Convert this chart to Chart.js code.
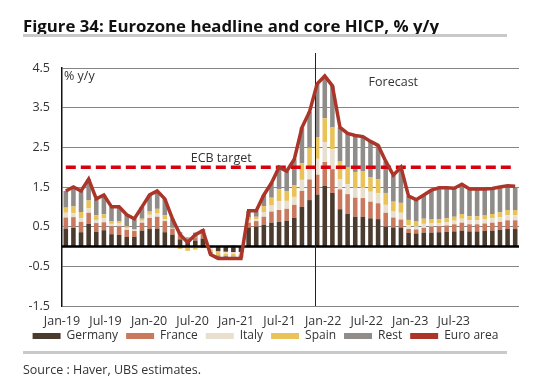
<!DOCTYPE html>
<html>
<head>
<meta charset="utf-8">
<script src="https://cdn.jsdelivr.net/npm/chart.js@4.4.0/dist/chart.umd.min.js"></script>
<style>
  body { margin: 0; background: #fff; font-family: "Open Sans", sans-serif; }
  #wrap { position: relative; width: 551px; height: 385px; overflow: hidden; }
  #title { position: absolute; left: 23px; top: 14px; font-size: 16.8px; font-weight: bold; color: #111; white-space: nowrap; }
  .rule { position: absolute; left: 23px; width: 484px; height: 3px; background: #c9c9c9; }
  #source { position: absolute; left: 23px; top: 361px; font-size: 12.5px; color: #333; white-space: nowrap; }
  canvas { position: absolute; left: 0; top: 0; }
</style>
</head>
<body>
<div id="wrap">
  <canvas id="chart" width="551" height="385"></canvas>
  <div id="title">Figure 34: Eurozone headline and core HICP, % y/y</div>
  <div class="rule" style="top:34px"></div>
  <div class="rule" style="top:351px"></div>
  <div id="source">Source : Haver, UBS estimates.</div>
</div>
<script>
// ===== data =====
const months = [
  "Jan-19","Feb-19","Mar-19","Apr-19","May-19","Jun-19","Jul-19","Aug-19","Sep-19","Oct-19","Nov-19","Dec-19",
  "Jan-20","Feb-20","Mar-20","Apr-20","May-20","Jun-20","Jul-20","Aug-20","Sep-20","Oct-20","Nov-20","Dec-20",
  "Jan-21","Feb-21","Mar-21","Apr-21","May-21","Jun-21","Jul-21","Aug-21","Sep-21","Oct-21","Nov-21","Dec-21",
  "Jan-22","Feb-22","Mar-22","Apr-22","May-22","Jun-22","Jul-22","Aug-22","Sep-22","Oct-22","Nov-22","Dec-22",
  "Jan-23","Feb-23","Mar-23","Apr-23","May-23","Jun-23","Jul-23","Aug-23","Sep-23","Oct-23","Nov-23","Dec-23"
];

const tickLabels = ["Jan-19","Jul-19","Jan-20","Jul-20","Jan-21","Jul-21","Jan-22","Jul-22","Jan-23","Jul-23"];
const yTicks = [-1.5, -0.5, 0.5, 1.5, 2.5, 3.5, 4.5];

const germany = [
  0.45,0.47,0.36,0.57,0.37,0.41,0.31,0.29,0.24,0.24,0.40,0.44,
  0.45,0.36,0.30,0.18,0.14,0.15,0.20,-0.02,-0.12,-0.13,-0.14,-0.14,
  0.48,0.50,0.55,0.60,0.62,0.65,0.72,1.00,1.17,1.31,1.53,1.35,
  0.94,0.82,0.75,0.75,0.71,0.69,0.50,0.48,0.48,0.34,0.33,0.35,
  0.35,0.36,0.37,0.38,0.40,0.38,0.38,0.39,0.40,0.42,0.44,0.44
];
const france = [
  0.28,0.27,0.26,0.28,0.22,0.20,0.20,0.22,0.18,0.15,0.20,0.28,
  0.30,0.28,0.15,0.10,0.06,0.08,0.15,0.02,0.00,0.00,0.03,0.00,
  0.12,0.14,0.20,0.28,0.30,0.30,0.33,0.40,0.52,0.50,0.60,0.60,
  0.50,0.50,0.48,0.47,0.42,0.40,0.35,0.25,0.20,0.10,0.10,0.12,
  0.15,0.15,0.16,0.18,0.20,0.18,0.18,0.19,0.20,0.20,0.22,0.22
];
const italy = [
  0.12,0.10,0.10,0.11,0.08,0.10,0.06,0.07,0.05,0.03,0.05,0.08,
  0.08,0.05,0.02,0.00,-0.03,-0.03,0.00,-0.05,-0.02,-0.05,-0.05,-0.03,
  0.06,0.05,0.12,0.15,0.22,0.20,0.20,0.28,0.30,0.40,0.50,0.50,
  0.25,0.25,0.25,0.27,0.25,0.25,0.20,0.15,0.17,0.10,0.08,0.10,
  0.08,0.08,0.08,0.09,0.10,0.10,0.10,0.10,0.11,0.12,0.13,0.13
];
const spain = [
  0.13,0.17,0.15,0.20,0.12,0.10,0.07,0.06,0.04,0.02,0.05,0.08,
  0.12,0.10,0.00,-0.06,-0.08,-0.05,-0.04,-0.06,-0.08,-0.06,-0.06,-0.05,
  0.07,0.06,0.15,0.20,0.30,0.25,0.30,0.42,0.50,0.55,0.60,0.55,
  0.45,0.42,0.40,0.40,0.37,0.35,0.30,0.25,0.25,0.13,0.12,0.13,
  0.10,0.10,0.10,0.10,0.12,0.10,0.10,0.10,0.11,0.12,0.13,0.13
];
const rest = [
  0.42,0.49,0.53,0.54,0.41,0.49,0.36,0.36,0.29,0.26,0.30,0.42,
  0.45,0.41,0.23,0.08,0.03,0.12,0.09,-0.05,-0.05,-0.04,-0.05,-0.06,
  0.17,0.15,0.28,0.37,0.56,0.50,0.65,0.90,0.91,1.34,1.07,1.05,
  0.86,0.86,0.92,0.88,0.90,0.86,0.80,0.67,0.90,0.60,0.55,0.60,
  0.72,0.77,0.75,0.70,0.73,0.67,0.67,0.65,0.62,0.62,0.59,0.58
];
const euroArea = [
  1.4,1.5,1.4,1.7,1.2,1.3,1.0,1.0,0.8,0.7,1.0,1.3,
  1.4,1.2,0.7,0.3,0.1,0.3,0.4,-0.2,-0.3,-0.3,-0.3,-0.3,
  0.9,0.9,1.3,1.6,2.0,1.9,2.2,3.0,3.4,4.1,4.3,4.05,
  3.0,2.85,2.8,2.77,2.65,2.55,2.15,1.8,2.0,1.27,1.18,1.3,
  1.42,1.48,1.48,1.47,1.57,1.45,1.45,1.45,1.46,1.5,1.53,1.52
];
const ecbTarget = months.map(() => 2.0);
const forecastFrom = "Oct-21";

// ===== chart =====
const font = { family: "'Open Sans', sans-serif", size: 12.5 };
const txt = "#333";

function bar(label, data, color) {
  return { type: "bar", label: label, data: data, backgroundColor: color, borderWidth: 0,
           barPercentage: 0.6, categoryPercentage: 1, order: 2, xAxisID: "x", stack: "hicp" };
}

const annot = {
  id: "annot",
  afterLayout(chart) {
    // legend sits closer to the date labels than chart.js would put it
    const lg = chart.legend;
    lg.top -= 15; lg.bottom -= 15;
    lg.left += 6; lg.right += 6;
  },
  afterDatasetDraw(chart, args) {
    if (args.index !== 0) return; // after the last bar layer, before the lines
    const { ctx, chartArea: a, scales } = chart;
    const x = scales.x, y = scales.y;
    ctx.save();
    // zero line
    const y0 = y.getPixelForValue(0);
    ctx.strokeStyle = "#000";
    ctx.lineWidth = 2.5;
    ctx.beginPath(); ctx.moveTo(a.left, y0); ctx.lineTo(a.right, y0); ctx.stroke();
    // forecast divider
    const i = months.indexOf(forecastFrom);
    const fx = Math.round((x.getPixelForValue(i - 1) + x.getPixelForValue(i)) / 2) + 2.5;
    ctx.strokeStyle = "#222";
    ctx.lineWidth = 1;
    ctx.beginPath(); ctx.moveTo(fx, a.top - 15); ctx.lineTo(fx, a.bottom); ctx.stroke();
    // texts
    ctx.fillStyle = txt;
    ctx.font = "12.5px 'Open Sans', sans-serif";
    ctx.textBaseline = "middle";
    ctx.textAlign = "left";
    ctx.fillText("% y/y", a.left + 2, a.top + 8);
    ctx.textAlign = "center";
    ctx.fillText("Forecast", x.getPixelForValue(43), y.getPixelForValue(4.13));
    ctx.fillText("ECB target", x.getPixelForValue(20.4), y.getPixelForValue(2.22));
    ctx.restore();
  }
};

new Chart(document.getElementById("chart"), {
  data: {
    labels: months,
    datasets: [
      bar("Germany", germany, "#4b3a2e"),
      bar("France", france, "#c97a5e"),
      bar("Italy", italy, "#e8dfcf"),
      bar("Spain", spain, "#e9c25a"),
      bar("Rest", rest, "#8f8c8a"),
      { type: "line", label: "Euro area", data: euroArea, borderColor: "#ab3529", backgroundColor: "#ab3529",
        borderWidth: 3.5, pointRadius: 0, tension: 0, order: 0, xAxisID: "x", stack: "euro" },
      { type: "line", label: "ECB target", data: ecbTarget, borderColor: "#d6000f", backgroundColor: "#d6000f",
        borderWidth: 3.5, borderDash: [10, 5], pointRadius: 0, order: 1, xAxisID: "x", stack: "ecb" }
    ]
  },
  options: {
    responsive: false,
    animation: false,
    layout: { padding: { top: 68, left: 0, right: 32, bottom: 18 } },
    scales: {
      x: { display: false, stacked: true },
      // the reference spaces its date labels a little tighter than the bars
      xl: {
        type: "linear", position: "bottom", min: 0, max: 63,
        grid: { display: false, drawTicks: false }, border: { display: false },
        afterBuildTicks: (s) => { s.ticks = tickLabels.map((t, k) => ({ value: k * 6 })); },
        ticks: { font: font, color: txt, padding: 8, maxRotation: 0, autoSkip: false,
                 callback: (v) => tickLabels[v / 6] }
      },
      y: {
        stacked: true, min: -1.5, max: 4.5,
        afterBuildTicks: (s) => { s.ticks = yTicks.map((v) => ({ value: v })); },
        afterFit: (s) => { s.width = 62; },
        grid: { color: "#858585", lineWidth: 1, drawTicks: false },
        border: { color: "#111", width: 1.5 },
        ticks: { font: font, color: txt, padding: 12, callback: (v) => v.toFixed(1) }
      }
    },
    plugins: {
      tooltip: { enabled: false },
      legend: {
        position: "bottom",
        labels: {
          font: { family: "'Open Sans', sans-serif", size: 12 }, color: txt, boxWidth: 28, boxHeight: 6, padding: 8,
          generateLabels: (chart) => chart.data.datasets
            .map((d, k) => ({ text: d.label, fillStyle: d.backgroundColor, strokeStyle: d.backgroundColor,
                              lineWidth: 0, hidden: false, datasetIndex: k, fontColor: txt }))
            .filter((l) => l.text !== "ECB target")
        }
      }
    }
  },
  plugins: [annot]
});
</script>
</body>
</html>
